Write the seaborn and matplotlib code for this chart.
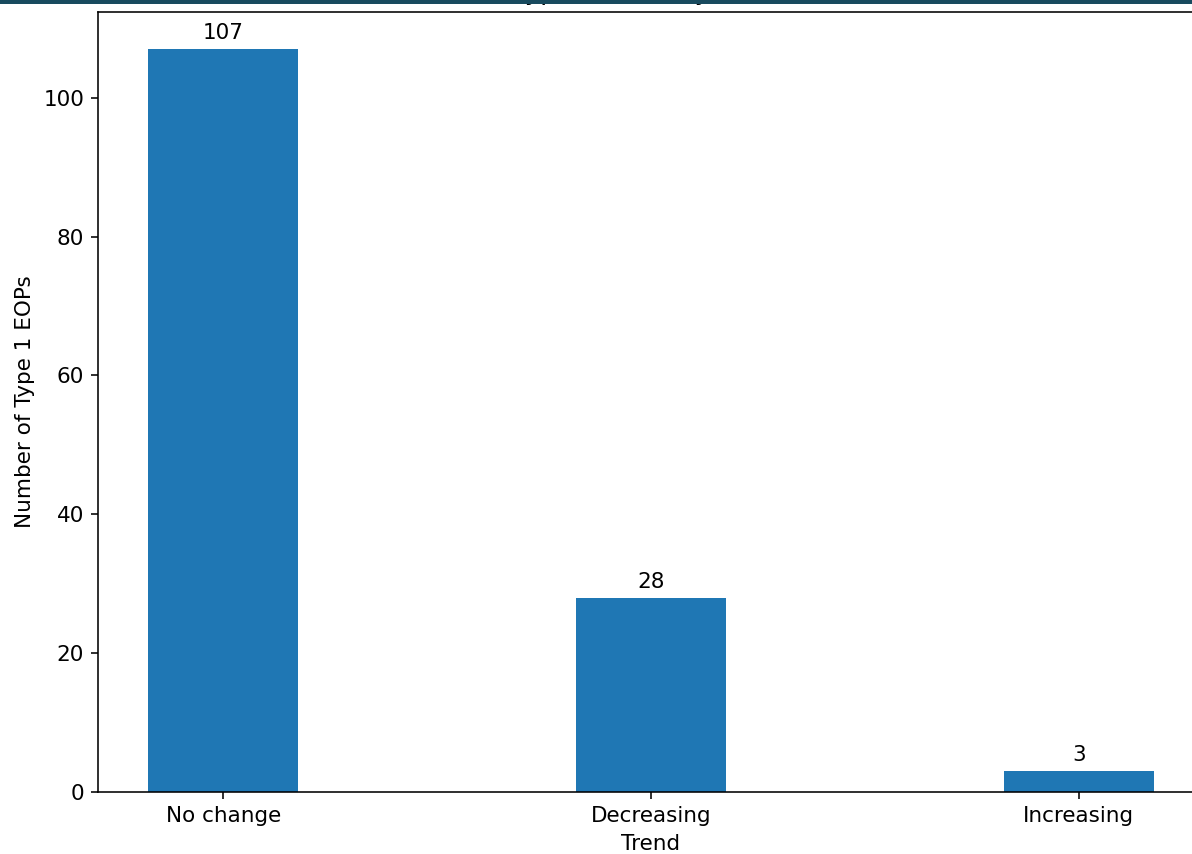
import pandas as pd
import seaborn as sns
import matplotlib.pyplot as plt
from matplotlib.patches import Rectangle

# counts of Type 1 EOPs per trend
trends = ['No change', 'Decreasing', 'Increasing']
counts = [107, 28, 3]

data = pd.DataFrame({'Trend': trends, 'Count': counts})

plt.rcParams['font.size'] = 10.8

fig = plt.figure(figsize=(1192 / 143, 854 / 143), dpi=143)
# the reference is a cropped screenshot: axes run past the right edge
ax = fig.add_axes([0.0822, 0.0726, 0.9279, 0.9133])

sns.barplot(data=data, x='Trend', y='Count', color='#1f77b4',
            saturation=1, width=0.35, ax=ax)
ax.bar_label(ax.containers[0], padding=3)
ax.set_xlim(-0.2925, 2.2925)
ax.set_xlabel('Trend')
ax.set_ylabel('Number of Type 1 EOPs')
# title sits mostly above the cropped top edge, as in the screenshot
ax.set_title('Type 1 EOPs by Trend', pad=6.8)

# thin dark strip along the top of the screenshot
fig.patches.append(Rectangle((0, 0.9965), 1, 0.0035, transform=fig.transFigure,
                             color='#184a5e', zorder=10))

fig.savefig('out.png', dpi=143)
